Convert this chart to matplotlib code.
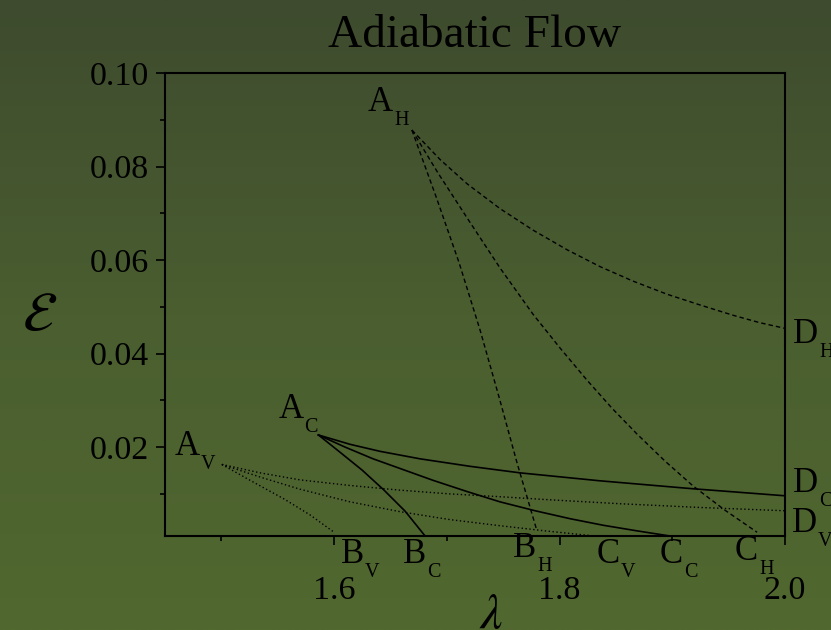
import numpy as np
import matplotlib
matplotlib.use('Agg')
import matplotlib.pyplot as plt
from matplotlib.colors import LinearSegmentedColormap

plt.rcParams['font.family'] = ['Liberation Serif', 'DejaVu Serif']
plt.rcParams['mathtext.fontset'] = 'stix'

# --- data ---
# A_H -> B_H / C_H / D_H  (dashed)
h_b_x = [1.669, 1.6905, 1.7109, 1.7295, 1.7463, 1.7623, 1.7798]
h_b_y = [0.0878, 0.0735, 0.0594, 0.0450, 0.0307, 0.0166, 0.0022]
h_c_x = [1.669, 1.6922, 1.7180, 1.7472, 1.7765, 1.8004, 1.8244, 1.8466,
         1.8687, 1.8936, 1.9184, 1.9468, 1.9752]
h_c_y = [0.0878, 0.0786, 0.0690, 0.0583, 0.0484, 0.0412, 0.0343, 0.0283,
         0.0228, 0.0170, 0.0117, 0.0065, 0.0018]
h_d_x = [1.669, 1.6940, 1.7180, 1.7472, 1.7765, 1.8067, 1.8359, 1.8652,
         1.8953, 1.9246, 1.9539, 1.9778, 2.0]
h_d_y = [0.0878, 0.0815, 0.0763, 0.0710, 0.0664, 0.0622, 0.0586, 0.0555,
         0.0527, 0.0504, 0.0482, 0.0466, 0.0454]

# A_C -> B_C / C_C / D_C  (solid)
c_b_x = [1.5861, 1.6053, 1.6248, 1.6443, 1.6630, 1.6807]
c_b_y = [0.0226, 0.0189, 0.0151, 0.0108, 0.0063, 0.0010]
c_c_x = [1.5861, 1.6098, 1.6346, 1.6612, 1.6878, 1.7180, 1.7472, 1.7783,
         1.8093, 1.8386, 1.8687, 1.8980]
c_c_y = [0.0226, 0.0200, 0.0175, 0.0152, 0.0129, 0.0105, 0.0083, 0.0064,
         0.0047, 0.0033, 0.0021, 0.0010]
c_d_x = [1.5861, 1.6142, 1.6408, 1.6763, 1.7206, 1.7650, 1.8359, 1.9184, 2.0]
c_d_y = [0.0226, 0.0206, 0.0191, 0.0175, 0.0159, 0.0145, 0.0128, 0.0111, 0.0096]

# A_V -> B_V / C_V / D_V  (dotted)
v_b_x = [1.5004, 1.5255, 1.5550, 1.5787, 1.5994]
v_b_y = [0.0163, 0.0129, 0.0090, 0.0055, 0.0019]
v_c_x = [1.5004, 1.5344, 1.5698, 1.6142, 1.6585, 1.7029, 1.7472, 1.7871, 1.8270]
v_c_y = [0.0163, 0.0136, 0.0110, 0.0083, 0.0062, 0.0045, 0.0032, 0.0021, 0.0011]
v_d_x = [1.5004, 1.5344, 1.5698, 1.6142, 1.6585, 1.7029, 1.7472, 1.7942,
         1.8537, 1.9246, 2.0]
v_d_y = [0.0163, 0.0145, 0.0130, 0.0118, 0.0108, 0.0100, 0.0094, 0.0087,
         0.0079, 0.0071, 0.0064]

xticks = [1.6, 1.8, 2.0]
xticklabels = ['1.6', '1.8', '2.0']
yticks = [0.02, 0.04, 0.06, 0.08, 0.10]
yticklabels = ['0.02', '0.04', '0.06', '0.08', '0.10']

fig = plt.figure(figsize=(8.31, 6.30), dpi=100)

# background gradient
bg = fig.add_axes([0, 0, 1, 1], zorder=0)
cmap = LinearSegmentedColormap.from_list('bg', ['#3e4b2e', '#4a5e30', '#51682f'])
bg.imshow(np.linspace(0, 1, 256).reshape(-1, 1), aspect='auto', cmap=cmap,
          extent=[0, 1, 0, 1])
bg.axis('off')

ax = fig.add_axes([0.1986, 0.1492, 0.7461, 0.7349], zorder=1)
ax.set_facecolor('none')

dash = dict(color='black', lw=1.0, dashes=(3.2, 2.2))
solid = dict(color='black', lw=1.2)
dot = dict(color='black', lw=1.0, dashes=(1.0, 1.8))

ax.plot(h_b_x, h_b_y, **dash)
ax.plot(h_c_x, h_c_y, **dash)
ax.plot(h_d_x, h_d_y, **dash)
ax.plot(c_b_x, c_b_y, **solid)
ax.plot(c_c_x, c_c_y, **solid)
ax.plot(c_d_x, c_d_y, **solid)
ax.plot(v_b_x, v_b_y, **dot)
ax.plot(v_c_x, v_c_y, **dot)
ax.plot(v_d_x, v_d_y, **dot)

ax.set_xlim(1.45, 2.0)
ax.set_ylim(0.001, 0.10)
ax.set_xticks(xticks)
ax.set_xticklabels(xticklabels)
ax.set_xticks([1.5, 1.7, 1.9], minor=True)
ax.set_yticks(yticks)
ax.set_yticklabels(yticklabels)
ax.set_yticks([0.01, 0.03, 0.05, 0.07, 0.09], minor=True)

for s in ax.spines.values():
    s.set_linewidth(1.5)
ax.tick_params(which='major', direction='out', length=6.5, width=1.2, labelsize=24.5)
ax.tick_params(which='minor', direction='out', length=3.5, width=1.2)
ax.tick_params(axis='x', which='major', pad=22)
ax.tick_params(axis='y', which='major', pad=5)

ax.set_title('Adiabatic Flow', fontsize=34, pad=19)
ax.set_ylabel(r'$\mathcal{E}$', fontsize=40, rotation=0, ha='center', va='center')
ax.yaxis.set_label_coords(-0.2016, 0.472)
ax.set_xlabel(r'$\lambda$', fontsize=36, va='top')
ax.xaxis.set_label_coords(0.526, -0.123)

# point labels: (letter, subscript, anchor x, anchor y, offset px right, offset px up)
labels = [
    ('A', 'H', h_b_x[0], h_b_y[0], -44, 19),
    ('A', 'C', c_b_x[0], c_b_y[0], -40, 17),
    ('A', 'V', v_b_x[0], v_b_y[0], -47, 9),
    ('B', 'V', v_b_x[-1], v_b_y[-1], 7, -31),
    ('B', 'C', c_b_x[-1], c_b_y[-1], -22, -27),
    ('B', 'H', h_b_x[-1], h_b_y[-1], -24, -27),
    ('C', 'V', v_c_x[-1], v_c_y[-1], 7, -27),
    ('C', 'C', c_c_x[-1], c_c_y[-1], -10, -27),
    ('C', 'H', h_c_x[-1], h_c_y[-1], -22, -28),
    ('D', 'H', h_d_x[-1], h_d_y[-1], 8, -15),
    ('D', 'C', c_d_x[-1], c_d_y[-1], 8, 4),
    ('D', 'V', v_d_x[-1], v_d_y[-1], 7, -21),
]

mains = []
for main, sub, x, y, dx, dy in labels:
    t = ax.annotate(main, (x, y), xytext=(dx * 0.72, dy * 0.72),
                    textcoords='offset points', fontsize=25,
                    ha='left', va='baseline', annotation_clip=False)
    mains.append(t)

fig.canvas.draw()
for t, (main, sub, x, y, dx, dy) in zip(mains, labels):
    w = t.get_window_extent().width
    ax.annotate(sub, (x, y), xytext=((dx + w + 1) * 0.72, (dy - 14) * 0.72),
                textcoords='offset points', fontsize=14.5,
                ha='left', va='baseline', annotation_clip=False)

fig.savefig('out.png', dpi=100)
